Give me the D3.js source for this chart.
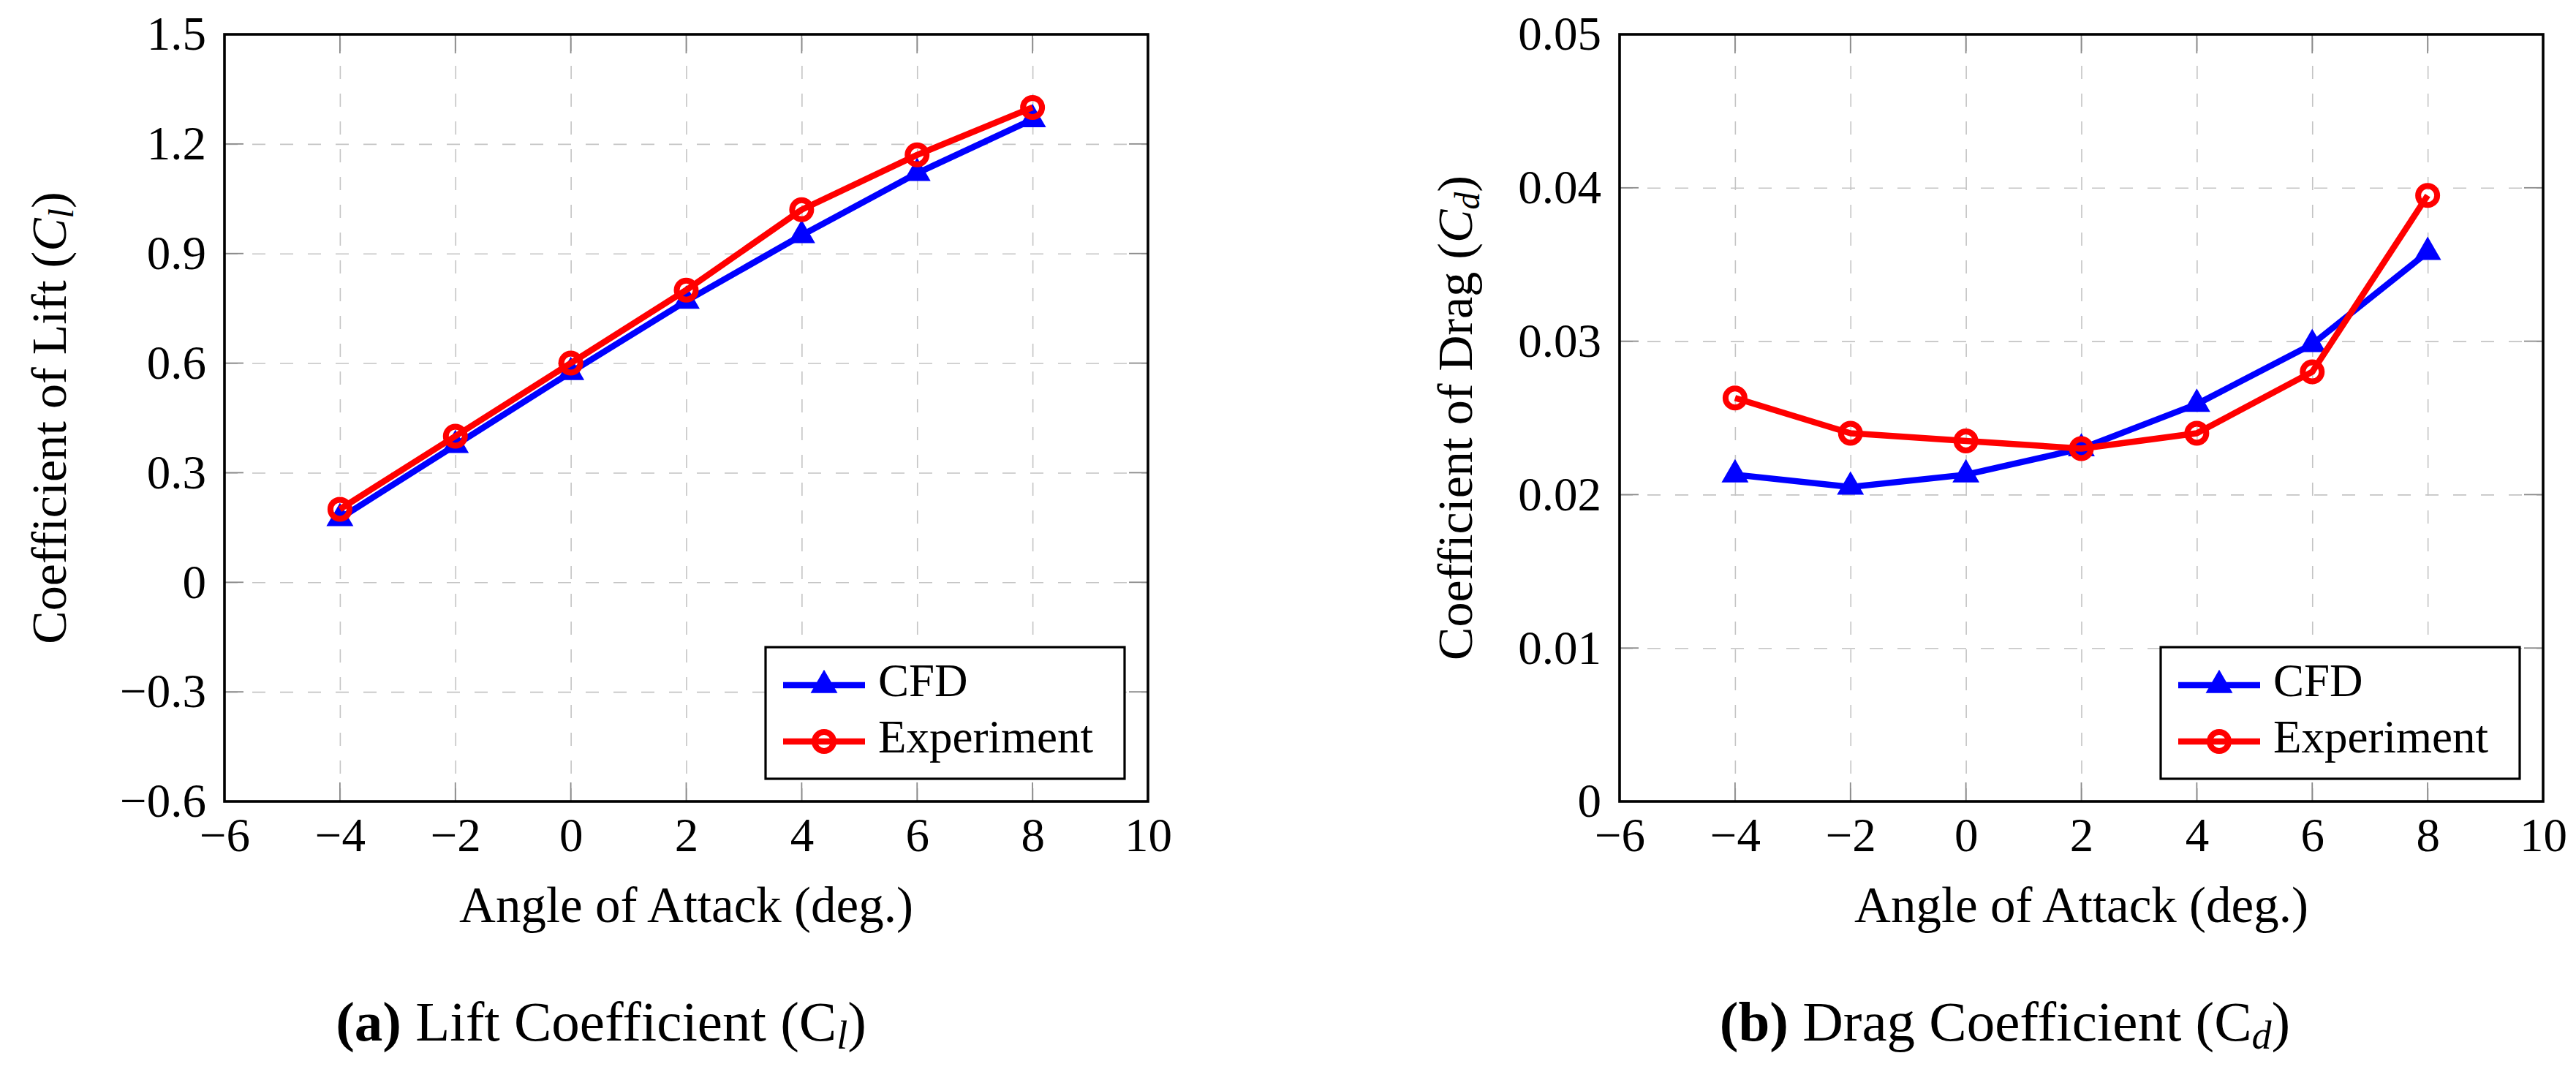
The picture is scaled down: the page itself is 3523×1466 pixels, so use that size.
<!DOCTYPE html>
<html>
<head>
<meta charset="utf-8">
<script src="https://cdn.jsdelivr.net/npm/d3@7"></script>
<style>
  body { margin: 0; background: #fff; }
  svg { display: block; font-family: "Liberation Serif", serif; }
</style>
</head>
<body>
<div id="chart"></div>
<script>
// data
const aoa = [-4, -2, 0, 2, 4, 6, 8];
const clCFD = [0.175, 0.375, 0.575, 0.77, 0.95, 1.12, 1.267];
const clExp = [0.20, 0.40, 0.60, 0.80, 1.02, 1.17, 1.30];
const cdCFD = [0.0213, 0.0205, 0.0213, 0.0230, 0.0259, 0.0298, 0.0358];
const cdExp = [0.0263, 0.0240, 0.0235, 0.0230, 0.0240, 0.0280, 0.0395];

const xTicks = [-6, -4, -2, 0, 2, 4, 6, 8, 10];
const clTicks = [-0.6, -0.3, 0, 0.3, 0.6, 0.9, 1.2, 1.5];
const cdTicks = [0, 0.01, 0.02, 0.03, 0.04, 0.05];
const seriesNames = ["CFD", "Experiment"];

const W = 3523, H = 1466;
const svg = d3.select("#chart").append("svg").attr("width", W).attr("height", H);

const fmt = d => (d < 0 ? "\u2212" + Math.abs(d) : String(d));

function panel(opt) {
  const w = 1263, h = 1049;
  const g = svg.append("g").attr("transform", `translate(${opt.left},${opt.top})`);

  const x = d3.scaleLinear().domain([-6, 10]).range([0, w]);
  const y = d3.scaleLinear().domain(opt.yDomain).range([h, 0]);

  // dashed grid
  g.append("g")
    .attr("transform", `translate(0,${h})`)
    .call(d3.axisBottom(x).tickValues(xTicks.slice(1, -1)).tickSize(-h).tickFormat(""))
    .call(a => a.select(".domain").remove())
    .selectAll("line").attr("stroke", "#c4c4c4").attr("stroke-width", 1.6).attr("stroke-dasharray", "18 20");
  g.append("g")
    .call(d3.axisLeft(y).tickValues(opt.yTicks.slice(1, -1)).tickSize(-w).tickFormat(""))
    .call(a => a.select(".domain").remove())
    .selectAll("line").attr("stroke", "#c4c4c4").attr("stroke-width", 1.6).attr("stroke-dasharray", "18 20");

  // inner tick marks on all four sides
  const tl = 26, tc = "#8a8a8a";
  const xt = xTicks.slice(1, -1), yt = opt.yTicks.slice(1, -1);
  g.selectAll(".xtb").data(xt).enter().append("line")
    .attr("x1", d => x(d)).attr("x2", d => x(d)).attr("y1", h).attr("y2", h - tl)
    .attr("stroke", tc).attr("stroke-width", 1.8);
  g.selectAll(".xtt").data(xt).enter().append("line")
    .attr("x1", d => x(d)).attr("x2", d => x(d)).attr("y1", 0).attr("y2", tl)
    .attr("stroke", tc).attr("stroke-width", 1.8);
  g.selectAll(".ytl").data(yt).enter().append("line")
    .attr("y1", d => y(d)).attr("y2", d => y(d)).attr("x1", 0).attr("x2", tl)
    .attr("stroke", tc).attr("stroke-width", 1.8);
  g.selectAll(".ytr").data(yt).enter().append("line")
    .attr("y1", d => y(d)).attr("y2", d => y(d)).attr("x1", w).attr("x2", w - tl)
    .attr("stroke", tc).attr("stroke-width", 1.8);

  // tick labels
  g.append("g")
    .attr("transform", `translate(0,${h})`)
    .call(d3.axisBottom(x).tickValues(xTicks).tickSize(0).tickPadding(22).tickFormat(fmt))
    .call(a => a.select(".domain").remove())
    .selectAll("text").attr("font-size", 65).attr("fill", "#000").attr("font-family", "Liberation Serif, serif");
  g.append("g")
    .call(d3.axisLeft(y).tickValues(opt.yTicks).tickSize(0).tickPadding(25).tickFormat(fmt))
    .call(a => a.select(".domain").remove())
    .selectAll("text").attr("font-size", 65).attr("fill", "#000").attr("font-family", "Liberation Serif, serif");

  // series
  const line = d3.line().x((d, i) => x(aoa[i])).y(d => y(d));
  g.append("path").datum(opt.cfd).attr("d", line)
    .attr("fill", "none").attr("stroke", "#0000ff").attr("stroke-width", 8.5).attr("stroke-linejoin", "round");
  g.selectAll(".tri").data(opt.cfd).enter().append("path")
    .attr("d", d3.symbol().type(d3.symbolTriangle).size(590))
    .attr("transform", (d, i) => `translate(${x(aoa[i])},${y(d)})`)
    .attr("fill", "#0000ff");
  g.append("path").datum(opt.exp).attr("d", line)
    .attr("fill", "none").attr("stroke", "#ff0000").attr("stroke-width", 8.5).attr("stroke-linejoin", "round");
  g.selectAll(".circ").data(opt.exp).enter().append("circle")
    .attr("cx", (d, i) => x(aoa[i])).attr("cy", d => y(d)).attr("r", 13)
    .attr("fill", "none").attr("stroke", "#ff0000").attr("stroke-width", 8);

  // frame
  g.append("rect").attr("width", w).attr("height", h)
    .attr("fill", "none").attr("stroke", "#000").attr("stroke-width", 3.6);

  // legend
  const lw = 491, lh = 180;
  const lg = g.append("g").attr("transform", `translate(${w - 32 - lw},${h - 31 - lh})`);
  lg.append("rect").attr("width", lw).attr("height", lh)
    .attr("fill", "#fff").attr("stroke", "#000").attr("stroke-width", 3.2);
  const rows = [52, 129];
  seriesNames.forEach((name, k) => {
    const ry = rows[k], col = k === 0 ? "#0000ff" : "#ff0000";
    lg.append("line").attr("x1", 24).attr("x2", 136).attr("y1", ry).attr("y2", ry)
      .attr("stroke", col).attr("stroke-width", 8.5);
    if (k === 0) {
      lg.append("path").attr("d", d3.symbol().type(d3.symbolTriangle).size(590))
        .attr("transform", `translate(80,${ry})`).attr("fill", col);
    } else {
      lg.append("circle").attr("cx", 80).attr("cy", ry).attr("r", 13)
        .attr("fill", "none").attr("stroke", col).attr("stroke-width", 8);
    }
    lg.append("text").attr("x", 154).attr("y", ry + 15).attr("font-size", 63).text(name);
  });

  // axis titles
  g.append("text").attr("x", w / 2).attr("y", 1261 - opt.top)
    .attr("text-anchor", "middle").attr("font-size", 69).text("Angle of Attack (deg.)");

  const yl = g.append("text")
    .attr("transform", `translate(${opt.ylabelX - opt.left},${h / 2}) rotate(-90)`)
    .attr("text-anchor", "middle").attr("font-size", 68);
  yl.append("tspan").text(opt.ylabel + " (");
  yl.append("tspan").attr("font-style", "italic").text("C");
  yl.append("tspan").attr("font-style", "italic").attr("font-size", 48).attr("dy", 10).text(opt.sub);
  yl.append("tspan").attr("dy", -10).text(")");

  // caption
  const cap = svg.append("text").attr("x", opt.capX).attr("y", 1423)
    .attr("text-anchor", "middle").attr("font-size", 77);
  cap.append("tspan").attr("font-weight", "bold").text(opt.tag);
  cap.append("tspan").text(" " + opt.capText + " (C");
  cap.append("tspan").attr("font-style", "italic").attr("font-size", 54).attr("dy", 11).text(opt.sub);
  cap.append("tspan").attr("dy", -11).text(")");
}

panel({ left: 307, top: 47, yDomain: [-0.6, 1.5], yTicks: clTicks, cfd: clCFD, exp: clExp,
  ylabel: "Coefficient of Lift", sub: "l", ylabelX: 90, tag: "(a)", capText: "Lift Coefficient", capX: 822 });
panel({ left: 2215, top: 47, yDomain: [0, 0.05], yTicks: cdTicks, cfd: cdCFD, exp: cdExp,
  ylabel: "Coefficient of Drag", sub: "d", ylabelX: 2013, tag: "(b)", capText: "Drag Coefficient", capX: 2742 });
</script>
</body>
</html>
